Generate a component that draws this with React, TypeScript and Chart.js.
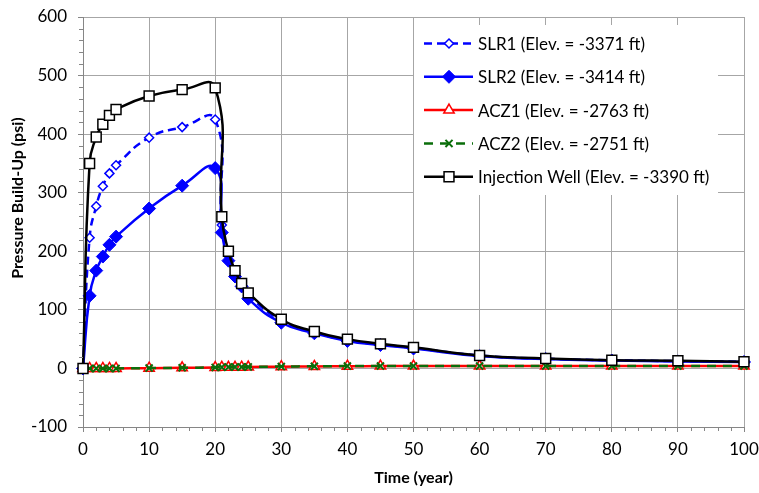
import React, { useEffect, useRef } from 'react';
import { Chart, registerables } from 'chart.js';
import { drawPoint } from 'chart.js/helpers';

Chart.register(...registerables);

// ---- Data ----
const years = [0, 1, 2, 3, 4, 5, 10, 15, 20, 21, 22, 23, 24, 25, 30, 35, 40, 45, 50, 60, 70, 80, 90, 100];
const slr1 = [0, 223, 277, 311, 333, 347, 394, 412, 425, 245, 192, 162, 141, 125, 82, 62, 48, 41, 35, 22, 16.5, 14, 12.5, 11.5];
const slr2 = [0, 124, 167, 191, 211, 225, 273, 312, 342, 232, 184, 157, 140, 119, 78, 60, 47, 40, 34, 21, 16, 13.5, 12, 11];
const acz1 = [0, 0, 0, 0, 0, 0, 0.5, 1, 1.5, 2, 2, 2, 2.2, 2.3, 3, 3.5, 3.8, 4, 4, 4, 4, 4, 4, 4];
const acz2 = [0, 0, 0, 0, 0, 0, 0.6, 1.1, 1.7, 2.2, 2.3, 2.4, 2.5, 2.6, 3.2, 3.7, 4, 4.2, 4.2, 4.2, 4.2, 4.2, 4.2, 4.2];
const injWell = [0, 350, 395, 417, 432, 442, 465, 476, 479, 259, 200, 167, 145, 129, 84, 63, 50, 42, 36, 22, 17, 14, 13, 11.5];
const seriesLabels = [
  'SLR1 (Elev. = -3371 ft)',
  'SLR2 (Elev. = -3414 ft)',
  'ACZ1 (Elev. = -2763 ft)',
  'ACZ2 (Elev. = -2751 ft)',
  'Injection Well (Elev. = -3390 ft)',
];
const xTitle = 'Time (year)';
const yTitle = 'Pressure Build-Up (psi)';
const xMin = 0, xMax = 100, xStep = 10, xMinorStep = 2;
const yMin = -100, yMax = 600, yStep = 100, yMinorStep = 20;

const FONT = 'Lato, "Open Sans", sans-serif';
const BLUE = '#0000FF';
const RED = '#FF0000';
const GREEN = '#0A6E0A';
const BLACK = '#000000';

const toXY = (arr: number[]) => years.map((x, i) => ({ x, y: arr[i] }));

const legendPlugin = {
  id: 'customLegend',
  afterDraw(chart: any) {
    const ctx = chart.ctx;
    ctx.save();
    ctx.fillStyle = '#ffffff';
    ctx.fillRect(414, 25, 304, 170);
    chart.data.datasets.forEach((ds: any, i: number) => {
      const y = 43.5 + i * 33.3;
      ctx.save();
      ctx.strokeStyle = ds.borderColor;
      ctx.lineWidth = ds.borderWidth;
      ctx.setLineDash(ds.borderDash || []);
      ctx.beginPath();
      ctx.moveTo(424, y);
      ctx.lineTo(473, y);
      ctx.stroke();
      ctx.setLineDash([]);
      ctx.fillStyle = ds.pointBackgroundColor;
      ctx.strokeStyle = ds.pointBorderColor;
      ctx.lineWidth = ds.pointBorderWidth;
      drawPoint(ctx, { pointStyle: ds.pointStyle, radius: ds.pointRadius, rotation: 0, borderWidth: ds.pointBorderWidth }, 449, y);
      ctx.restore();
      ctx.fillStyle = '#000';
      ctx.font = `17px ${FONT}`;
      ctx.textBaseline = 'middle';
      ctx.textAlign = 'left';
      ctx.fillText(ds.label, 478, y + 1);
    });
    ctx.restore();
  },
};

const axisExtrasPlugin = {
  id: 'axisExtras',
  afterDraw(chart: any) {
    const ctx = chart.ctx;
    const xs = chart.scales.x;
    const ys = chart.scales.y;
    const area = chart.chartArea;
    ctx.save();
    ctx.strokeStyle = '#868686';
    ctx.lineWidth = 1;
    ctx.beginPath();
    for (let v = xMin; v <= xMax; v += xMinorStep) {
      if (v % xStep === 0) continue;
      const px = Math.round(xs.getPixelForValue(v)) + 0.5;
      ctx.moveTo(px, area.bottom);
      ctx.lineTo(px, area.bottom + 4);
    }
    for (let v = yMin; v <= yMax; v += yMinorStep) {
      if (v % yStep === 0) continue;
      const py = Math.round(ys.getPixelForValue(v)) + 0.5;
      ctx.moveTo(area.left, py);
      ctx.lineTo(area.left - 4, py);
    }
    ctx.stroke();
    // axis titles
    ctx.fillStyle = '#000';
    ctx.font = `bold 16px ${FONT}`;
    ctx.textAlign = 'center';
    ctx.textBaseline = 'middle';
    ctx.fillText(xTitle, (area.left + area.right) / 2, 478);
    ctx.translate(18, 198);
    ctx.rotate(-Math.PI / 2);
    ctx.fillText(yTitle, 0, 0);
    ctx.restore();
  },
};

export default function App() {
  const ref = useRef<HTMLCanvasElement | null>(null);
  useEffect(() => {
    if (!ref.current) return;
    const common = { tension: 0.5, clip: false as any, borderWidth: 2.5 };
    const chart = new Chart(ref.current, {
      type: 'line',
      data: {
        datasets: [
          {
            ...common,
            label: seriesLabels[0],
            data: toXY(slr1),
            borderColor: BLUE,
            borderDash: [8, 5],
            pointStyle: 'rectRot',
            pointRadius: 4.5,
            pointBackgroundColor: '#ffffff',
            pointBorderColor: BLUE,
            pointBorderWidth: 1.5,
            order: 5,
          },
          {
            ...common,
            label: seriesLabels[1],
            data: toXY(slr2),
            borderColor: BLUE,
            pointStyle: 'rectRot',
            pointRadius: 6.5,
            pointBackgroundColor: BLUE,
            pointBorderColor: BLUE,
            pointBorderWidth: 1,
            order: 4,
          },
          {
            ...common,
            label: seriesLabels[2],
            data: toXY(acz1),
            borderColor: RED,
            pointStyle: 'triangle',
            pointRadius: 6,
            pointBackgroundColor: '#ffffff',
            pointBorderColor: RED,
            pointBorderWidth: 1.5,
            order: 3,
          },
          {
            ...common,
            label: seriesLabels[3],
            data: toXY(acz2),
            borderColor: GREEN,
            borderDash: [9, 7],
            pointStyle: 'crossRot',
            pointRadius: 5,
            pointBackgroundColor: GREEN,
            pointBorderColor: GREEN,
            pointBorderWidth: 2,
            order: 2,
          },
          {
            ...common,
            label: seriesLabels[4],
            data: toXY(injWell),
            borderColor: BLACK,
            pointStyle: 'rect',
            pointRadius: 7,
            pointBackgroundColor: '#ffffff',
            pointBorderColor: BLACK,
            pointBorderWidth: 1.5,
            order: 1,
          },
        ],
      },
      options: {
        responsive: false,
        animation: false,
        events: [],
        layout: { padding: { top: 17, right: 15, left: 0, bottom: 0 } },
        plugins: { legend: { display: false }, tooltip: { enabled: false } },
        scales: {
          x: {
            type: 'linear',
            min: xMin,
            max: xMax,
            afterFit: (s: any) => { s.height = 66; s.paddingLeft = 0; s.paddingRight = 0; },
            ticks: { stepSize: xStep, color: '#000', font: { family: FONT, size: 17 }, padding: 7, maxRotation: 0 },
            grid: { color: '#A6A6A6', tickColor: '#868686', tickLength: 5, lineWidth: 1 },
            border: { color: '#868686', width: 1 },
          },
          y: {
            type: 'linear',
            min: yMin,
            max: yMax,
            afterFit: (s: any) => { s.width = 83; s.paddingTop = 0; s.paddingBottom = 0; },
            ticks: { stepSize: yStep, color: '#000', font: { family: FONT, size: 17 }, padding: 11 },
            grid: { color: '#A6A6A6', tickColor: '#868686', tickLength: 5, lineWidth: 1 },
            border: { color: '#868686', width: 1 },
          },
        },
      },
      plugins: [axisExtrasPlugin, legendPlugin],
    });
    return () => chart.destroy();
  }, []);
  return (
    <div style={{ position: 'absolute', left: 0, top: 0, width: 759, height: 493, background: '#fff' }}>
      <canvas ref={ref} width={759} height={493} style={{ display: 'block' }} />
    </div>
  );
}
